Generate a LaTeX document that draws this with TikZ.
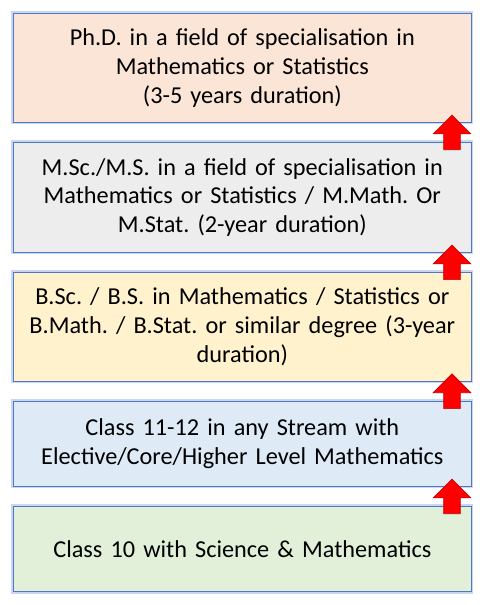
\documentclass[tikz,border=0pt]{standalone}
\usepackage{fontspec}
\setmainfont{Carlito}
\usepackage{tikz}
\usetikzlibrary{calc}
\usetikzlibrary{positioning}
\usepackage{xcolor}

\definecolor{boxline}{HTML}{4F78C4}
\definecolor{boxglow}{HTML}{C9D8F0}
\definecolor{phdfill}{HTML}{FBE5D6}
\definecolor{mscfill}{HTML}{EDEDED}
\definecolor{bscfill}{HTML}{FFF2CC}
\definecolor{hscfill}{HTML}{DEEBF7}
\definecolor{sscfill}{HTML}{E2F0D9}
\definecolor{arrowline}{HTML}{C00000}

\frenchspacing

\begin{document}
\begin{tikzpicture}[node distance=19pt,
        stage/.style={draw=boxline, line width=1.1pt, preaction={draw=boxglow, line width=4pt},
          minimum width=462pt, text width=446pt, inner xsep=8pt, align=center,
          font=\fontsize{24.5}{29}\selectfont},
        redarrow/.style={fill=red, draw=arrowline, line width=0.6pt, line join=miter}]
        \node[stage, fill=phdfill, minimum height=110pt] (phd) {Ph.D. in a field of specialisation in\\ Mathematics or Statistics\\ (3-5 years duration)};

        \node[stage, fill=mscfill, minimum height=111pt] (msc) [below=of phd] {M.Sc./M.S. in a field of specialisation in\\ Mathematics or Statistics / M.Math. Or\\ M.Stat. (2-year duration)};
        \node[stage, fill=bscfill, minimum height=110pt] (bsc) [below=of msc] {B.Sc. / B.S. in Mathematics / Statistics or\\ B.Math. / B.Stat. or similar degree (3-year\\ duration)};
        \node[stage, fill=hscfill, minimum height=86pt] (hsc) [below=of bsc] {Class 11-12 in any Stream with\\ Elective/Core/Higher Level Mathematics};
        \node[stage, fill=sscfill, minimum height=86pt] (ssc) [below=of hsc] {Class 10 with Science \& Mathematics};

        \useasboundingbox ($(phd.north west)+(-13pt,13pt)$) rectangle ($(ssc.south east)+(8pt,-13pt)$);

        % red block arrows between the stages
        \foreach \n in {msc,bsc,hsc,ssc}
          \draw[redarrow] ($(\n.north east)+(-28.5pt,-8pt)$) -- ++(0,16pt) -- ++(-10.5pt,0) -- ++(19pt,19pt)
            -- ++(19pt,-19pt) -- ++(-10.5pt,0) -- ++(0,-16pt) -- cycle;

      \end{tikzpicture}
\end{document}
